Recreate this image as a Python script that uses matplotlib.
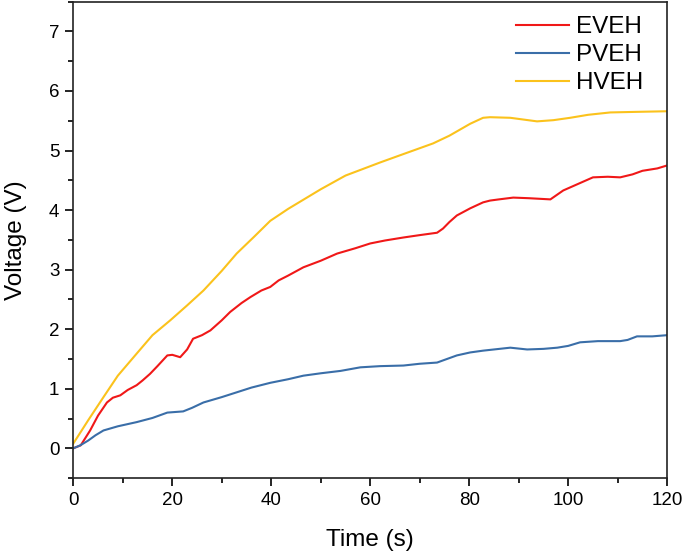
import matplotlib
matplotlib.use("Agg")
import matplotlib.pyplot as plt
from matplotlib.ticker import MultipleLocator

plt.rcParams["font.family"] = ["Liberation Sans", "DejaVu Sans"]

# EVEH (red)
t_eveh = [0, 1.5, 3.4, 5, 6.8, 8, 9.5, 11, 12.8, 14, 15.5, 17, 19, 20, 21.6, 23,
          24.2, 26, 27.7, 30, 31.7, 34, 35.8, 38, 39.8, 41.5, 43.4, 46.5, 50,
          53.3, 57, 60, 63, 66.7, 70, 73.5, 74.7, 76, 77.5, 80.2, 82.8, 84.2,
          86, 88.9, 92, 96.4, 99, 102, 105, 108, 110.5, 113, 115, 118, 120]
v_eveh = [0.0, 0.05, 0.3, 0.55, 0.77, 0.85, 0.89, 0.98, 1.06, 1.14, 1.25, 1.38,
          1.56, 1.57, 1.53, 1.66, 1.84, 1.9, 1.98, 2.15, 2.29, 2.44, 2.54, 2.65,
          2.71, 2.82, 2.9, 3.04, 3.15, 3.27, 3.36, 3.44, 3.49, 3.54, 3.58, 3.62,
          3.69, 3.8, 3.91, 4.03, 4.13, 4.16, 4.18, 4.21, 4.2, 4.18, 4.33, 4.44,
          4.55, 4.56, 4.55, 4.6, 4.66, 4.7, 4.75]

# PVEH (blue)
t_pveh = [0, 1.4, 3, 4.5, 6.1, 9, 12.8, 16, 19, 22.2, 24, 26.3, 30, 33, 36, 39.8,
          43.4, 46.5, 50, 54, 58, 62, 66.7, 70, 73.5, 75.5, 77.5, 80.2, 82.8,
          85, 88.3, 91.7, 95, 97.8, 100, 102.4, 106, 110.5, 112, 113.9, 117, 120]
v_pveh = [0.0, 0.05, 0.13, 0.22, 0.3, 0.37, 0.44, 0.51, 0.6, 0.62, 0.68, 0.77,
          0.86, 0.94, 1.02, 1.1, 1.16, 1.22, 1.26, 1.3, 1.36, 1.38, 1.39, 1.42,
          1.44, 1.5, 1.56, 1.61, 1.64, 1.66, 1.69, 1.66, 1.67, 1.69, 1.72, 1.78,
          1.8, 1.8, 1.82, 1.88, 1.88, 1.9]

# HVEH (yellow)
t_hveh = [0, 3, 6.1, 9, 12.8, 16, 19.6, 23, 26.3, 30, 33, 36.5, 39.8, 43.4, 47,
          50, 55, 62, 66, 72.7, 76, 80.2, 82.8, 84.2, 88.3, 91, 93.7, 97, 100.4,
          104, 108.5, 114, 120]
v_hveh = [0.08, 0.47, 0.86, 1.22, 1.59, 1.9, 2.15, 2.4, 2.65, 2.98, 3.27, 3.55,
          3.82, 4.02, 4.2, 4.35, 4.58, 4.8, 4.92, 5.12, 5.25, 5.45, 5.55, 5.56,
          5.55, 5.52, 5.49, 5.51, 5.55, 5.6, 5.64, 5.65, 5.66]

fig = plt.figure(figsize=(6.85, 5.54), dpi=100)
ax = fig.add_axes([0.107, 0.137, 0.867, 0.86])

ax.plot(t_eveh, v_eveh, color="#f01818", lw=1.5, label="EVEH")
ax.plot(t_pveh, v_pveh, color="#3a6ea8", lw=1.5, label="PVEH")
ax.plot(t_hveh, v_hveh, color="#fbc21c", lw=1.5, label="HVEH")

ax.set_xlim(0, 120)
ax.set_ylim(-0.5, 7.5)
ax.xaxis.set_major_locator(MultipleLocator(20))
ax.xaxis.set_minor_locator(MultipleLocator(10))
ax.yaxis.set_major_locator(MultipleLocator(1))
ax.yaxis.set_minor_locator(MultipleLocator(0.5))
ax.tick_params(which="both", direction="out", top=False, right=False,
               labelsize=13.5, width=1.2, pad=4)
ax.tick_params(which="major", length=6)
ax.tick_params(which="minor", length=3.5)
for s in ax.spines.values():
    s.set_linewidth(1.2)
    s.set_color("#222222")

ax.set_xlabel("Time (s)", fontsize=17.5, labelpad=14.5)
ax.set_ylabel("Voltage (V)", fontsize=17.5, labelpad=15.5)

ax.legend(loc="upper right", frameon=False, fontsize=17.5, handlelength=2.2,
          handletextpad=0.3, labelspacing=0.25, borderaxespad=0.2,
          bbox_to_anchor=(0.985, 1.0))

fig.savefig("out.png", dpi=100)
